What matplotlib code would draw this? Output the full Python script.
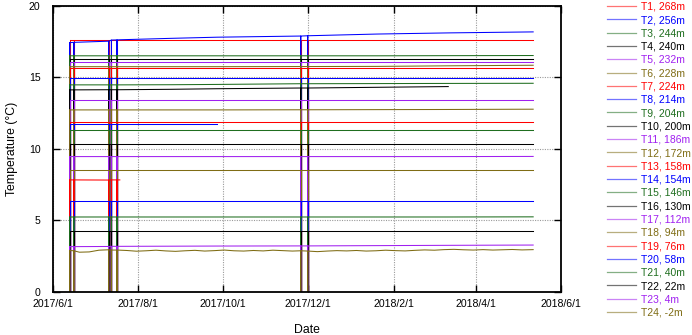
import numpy as np
import pandas as pd
import matplotlib
matplotlib.use("Agg")
import matplotlib.pyplot as plt
import matplotlib.dates as mdates
from matplotlib.ticker import FuncFormatter, MultipleLocator
from matplotlib.lines import Line2D

plt.rcParams['font.family'] = ['Liberation Sans', 'DejaVu Sans']

# ---------------- data ----------------
labels = ["T1, 268m", "T2, 256m", "T3, 244m", "T4, 240m", "T5, 232m", "T6, 228m",
          "T7, 224m", "T8, 214m", "T9, 204m", "T10, 200m", "T11, 186m", "T12, 172m",
          "T13, 158m", "T14, 154m", "T15, 146m", "T16, 130m", "T17, 112m", "T18, 94m",
          "T19, 76m", "T20, 58m", "T21, 40m", "T22, 22m", "T23, 4m", "T24, -2m"]

palette = ["#ff0000", "#0000ff", "#1f6e1f", "#000000", "#a020f0", "#7f6c14"]

knot_dates = ["2017-06-13", "2017-06-16", "2017-07-11", "2017-07-13", "2017-07-17",
              "2017-07-19", "2017-08-25", "2017-09-27", "2017-11-26", "2017-12-01",
              "2018-01-20", "2018-03-12", "2018-05-12"]

# logger dropouts (readings of 0 °C)
dropout_dates = ["2017-06-13", "2017-06-16", "2017-07-11", "2017-07-13",
                 "2017-07-17", "2017-11-26", "2017-12-01"]
DROPOUT_VALUE = 0.0

nan = np.nan
T1 = [17.60, 17.60, 17.60, 17.60, 17.60, 17.60, 17.60, 17.60, 17.60, 17.60, 17.60, 17.60, 17.60]
T2 = [17.42, 17.44, 17.52, 17.60, 17.61, 17.62, 17.72, 17.80, 17.88, 17.90, 18.02, 18.10, 18.17]
T3 = [16.50, 16.50, 16.50, 16.50, 16.50, 16.50, 16.50, 16.50, 16.50, 16.50, 16.50, 16.51, 16.52]
T4 = [16.30, 16.30, 16.30, 16.30, 16.30, 16.30, 16.30, 16.30, 16.30, 16.30, 16.30, 16.30, 16.30]
T5 = [16.10, 16.10, 16.10, 16.10, 16.10, 16.10, 16.10, 16.10, 16.10, 16.10, 16.10, 16.10, 16.10]
T6 = [15.74, 15.74, 15.74, 15.74, 15.74, 15.74, 15.74, 15.74, 15.75, 15.75, 15.76, 15.80, 15.84]
T7 = [15.67, 15.67, 15.67, 15.67, 15.67, 15.67, 15.67, 15.67, 15.67, 15.67, 15.67, 15.67, 15.67]
T8 = [14.97, 14.97, 14.97, 14.97, 14.97, 14.97, 14.97, 14.97, 14.97, 14.97, 14.97, 14.97, 14.97]
T9 = [14.47, 14.47, 14.47, 14.47, 14.47, 14.47, 14.48, 14.50, 14.55, 14.55, 14.56, 14.57, 14.58]
T10 = [14.12, 14.12, 14.13, 14.13, 14.13, 14.13, 14.16, 14.20, 14.25, 14.25, 14.30, 14.35, nan]
T11 = [13.42, 13.42, 13.42, 13.42, 13.42, 13.42, 13.42, 13.42, 13.42, 13.42, 13.42, 13.42, 13.42]
T12 = [12.72, 12.72, 12.72, 12.72, 12.72, 12.72, 12.72, 12.72, 12.73, 12.73, 12.74, 12.75, 12.77]
T13 = [11.89, 11.89, 11.89, 11.89, 11.89, 11.89, 11.89, 11.89, 11.89, 11.89, 11.89, 11.89, 11.89]
T14 = [11.72, 11.72, 11.72, 11.72, 11.72, 11.72, 11.72, 11.72, nan, nan, nan, nan, nan]
T15 = [11.32, 11.32, 11.32, 11.32, 11.32, 11.32, 11.32, 11.32, 11.32, 11.32, 11.32, 11.32, 11.32]
T16 = [10.36, 10.36, 10.36, 10.36, 10.36, 10.36, 10.36, 10.36, 10.36, 10.36, 10.36, 10.36, 10.36]
T17 = [9.46, 9.46, 9.46, 9.46, 9.46, 9.46, 9.46, 9.46, 9.46, 9.46, 9.46, 9.46, 9.47]
T18 = [8.50, 8.50, 8.50, 8.50, 8.50, 8.50, 8.50, 8.50, 8.50, 8.50, 8.50, 8.50, 8.50]
T19 = [7.83, 7.83, 7.82, 7.83, 7.83, 7.83, nan, nan, nan, nan, nan, nan, nan]
T20 = [6.34, 6.34, 6.34, 6.34, 6.34, 6.34, 6.34, 6.34, 6.34, 6.34, 6.34, 6.34, 6.34]
T21 = [5.24, 5.24, 5.24, 5.24, 5.24, 5.24, 5.24, 5.24, 5.24, 5.24, 5.24, 5.24, 5.25]
T22 = [4.24, 4.24, 4.24, 4.24, 4.24, 4.24, 4.24, 4.24, 4.24, 4.24, 4.24, 4.24, 4.24]
T23 = [3.17, 3.17, 3.18, 3.19, 3.19, 3.19, 3.20, 3.21, 3.22, 3.22, 3.24, 3.26, 3.28]

t24_dates = ["2017-06-13", "2017-06-16", "2017-06-20", "2017-06-27", "2017-07-04", "2017-07-11",
             "2017-07-13", "2017-07-17", "2017-07-24", "2017-07-31", "2017-08-07", "2017-08-14",
             "2017-08-21", "2017-08-28", "2017-09-04", "2017-09-11", "2017-09-18", "2017-09-25",
             "2017-10-02", "2017-10-09", "2017-10-16", "2017-10-23", "2017-10-30", "2017-11-06",
             "2017-11-13", "2017-11-20", "2017-11-26", "2017-12-01", "2017-12-08", "2017-12-15",
             "2017-12-22", "2017-12-29", "2018-01-05", "2018-01-12", "2018-01-19", "2018-01-26",
             "2018-02-02", "2018-02-09", "2018-02-16", "2018-02-23", "2018-03-02", "2018-03-09",
             "2018-03-16", "2018-03-23", "2018-03-30", "2018-04-06", "2018-04-13", "2018-04-20",
             "2018-04-27", "2018-05-04", "2018-05-12"]
T24 = [2.90, 2.88, 2.78, 2.80, 2.92, 2.95,
       2.93, 2.93, 2.90, 2.85, 2.88, 2.92,
       2.87, 2.84, 2.88, 2.91, 2.86, 2.89,
       2.93, 2.88, 2.86, 2.90, 2.87, 2.92,
       2.89, 2.86, 2.88, 2.86, 2.82, 2.86,
       2.89, 2.87, 2.90, 2.86, 2.88, 2.92,
       2.89, 2.87, 2.91, 2.94, 2.92, 2.96,
       2.98, 2.95, 2.93, 2.96, 2.93, 2.95,
       2.97, 2.94, 2.96]

series = [T1, T2, T3, T4, T5, T6, T7, T8, T9, T10, T11, T12,
          T13, T14, T15, T16, T17, T18, T19, T20, T21, T22, T23]

# ---------------- build lines ----------------
drop_set = set(pd.to_datetime(dropout_dates))


def build(dates, vals):
    xs, ys = [], []
    for d, v in zip(pd.to_datetime(dates), vals):
        if np.isnan(v):
            continue
        if d in drop_set:
            xs += [d, d, d]
            ys += [v, DROPOUT_VALUE, v]
        else:
            xs.append(d)
            ys.append(v)
    return xs, ys


W, H = 692, 335
fig = plt.figure(figsize=(W / 100, H / 100), dpi=100)
L, R, T, B = 53, 561, 5.7, 292
ax = fig.add_axes([L / W, 1 - B / H, (R - L) / W, (B - T) / H])

handles = []
all_series = series + [T24]
for i, vals in enumerate(all_series):
    dates = t24_dates if i == 23 else knot_dates
    xs, ys = build(dates, vals)
    c = palette[i % 6]
    ax.plot(xs, ys, color=c, lw=0.75, solid_joinstyle='miter')
    handles.append(Line2D([0], [0], color=c, lw=0.9, alpha=0.55))

ax.set_xlim(pd.Timestamp("2017-06-01"), pd.Timestamp("2018-06-01"))
ax.set_ylim(0, 20)
ax.xaxis.set_major_locator(mdates.MonthLocator(bymonth=[2, 4, 6, 8, 10, 12]))
ax.xaxis.set_major_formatter(FuncFormatter(
    lambda x, pos: (lambda d: f"{d.year}/{d.month}/{d.day}")(mdates.num2date(x))))
ax.yaxis.set_major_locator(MultipleLocator(5))

ax.tick_params(direction='in', length=5, width=1, top=True, right=True,
               labelsize=7.6, color='black')
ax.tick_params(axis='y', pad=9)
ax.tick_params(axis='x', pad=5)
for s in ax.spines.values():
    s.set_linewidth(1.3)
ax.grid(True, color='#9a9a9a', linestyle=(0, (1, 1.2)), lw=0.8)
ax.set_axisbelow(True)

ax.set_xlabel("Date", fontsize=8.8, labelpad=11)
ax.set_ylabel("Temperature (°C)", fontsize=8.8, labelpad=8)

# legend, calibrated so rows sit at the reference pixel rows
first_y, last_y = 6.7, 312.7          # text centres (px from top)
handle_x = 606.7
LEG_FS = 7.5


def make_legend(spacing, top):
    lg = ax.legend(handles, labels, loc='upper left',
                   bbox_to_anchor=(handle_x / W, 1 - top / H), bbox_transform=fig.transFigure,
                   frameon=False, fontsize=LEG_FS, handlelength=2.8, handletextpad=0.5,
                   labelspacing=spacing, borderpad=0, borderaxespad=0)
    for t, c in zip(lg.get_texts(), [palette[i % 6] for i in range(24)]):
        t.set_color(c)
    return lg


spacing, top = 0.25, 0.5
fs_px = LEG_FS * 100 / 72
for _ in range(4):
    leg = make_legend(spacing, top)
    fig.canvas.draw()
    r = fig.canvas.get_renderer()
    b0 = leg.get_texts()[0].get_window_extent(r)
    b1 = leg.get_texts()[-1].get_window_extent(r)
    c0 = H - (b0.y0 + b0.y1) / 2
    c1 = H - (b1.y0 + b1.y1) / 2
    cur = (c1 - c0) / 23
    want = (last_y - first_y) / 23
    spacing += (want - cur) / fs_px
    top += first_y - c0
leg = make_legend(spacing, top)

fig.savefig("out.png", dpi=100)
